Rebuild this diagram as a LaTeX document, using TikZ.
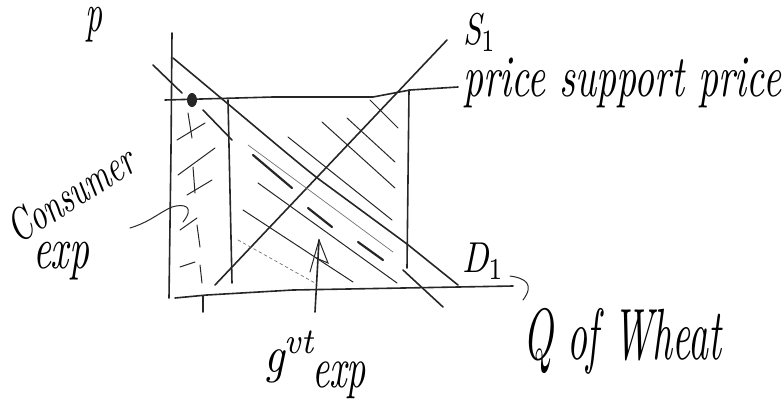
\documentclass[tikz,border=0pt]{standalone}
\usepackage{graphicx}
\newcommand{\hwtext}[3]{\resizebox*{#1pt}{#2pt}{\itshape #3}}
\begin{document}
\begin{tikzpicture}[x=1pt,y=-1pt,
  mainline/.style={line width=1.6pt, line cap=round, line join=round, draw=black!85},
  hatch/.style={line width=1.0pt, line cap=round, draw=black!85},
  faint/.style={line width=0.7pt, line cap=round, draw=black!55},
  thickdash/.style={line width=2.2pt, line cap=round, draw=black!85},
  lbl/.style={inner sep=0pt, outer sep=0pt, anchor=north west}]
\useasboundingbox (0,0) rectangle (784,402);

% key points
\coordinate (ytop) at (172,33);
\coordinate (ybot) at (169,298);
\coordinate (xl) at (175,298);
\coordinate (xr) at (513,286);
\coordinate (pl) at (165,100);
\coordinate (pr) at (458,87);
\coordinate (dtop) at (173,58);
\coordinate (dbot) at (458,285);
\coordinate (sbot) at (215,285);
\coordinate (stop) at (447,40);

% axes
\draw[mainline] (ytop) -- (171,150) -- (ybot);
\draw[mainline] (xl) -- (207,295) -- (293,290) -- (xr);
\draw[mainline] (203,296) -- (203,312);

% price support line and dot
\draw[mainline] (pl) -- (273,97) -- (373,97) -- (410,90) -- (pr);
\fill[black!85] (192,100) ellipse (5pt and 7pt);

% demand D
\draw[mainline] (dtop) .. controls (250,122) and (300,165) .. (320,180) -- (407,244) -- (dbot);
% dashed D1
\draw[mainline] (153,65) -- (182,93);
\draw[mainline] (203,110) -- (232,140);
\draw[thickdash] (253,155) -- (292,188);
\draw[thickdash] (308,208) -- (332,227);
\draw[thickdash] (358,242) -- (383,260);
\draw[mainline] (403,270) -- (443,307);

% supply S1
\draw[mainline] (sbot) -- (stop);

% verticals
\draw[mainline] (228,100) -- (232,283);
\draw[mainline] (409,90) -- (407,268);

% hatching (govt exp)
\draw[hatch] (370,100) -- (398,128);
\draw[hatch] (347,118) -- (395,162);
\draw[hatch] (322,122) -- (395,188);
\draw[hatch] (288,137) -- (392,220);
\draw[faint] (248,145) -- (393,252);
\draw[hatch] (258,183) -- (397,283);
\draw[hatch] (243,210) -- (353,282);
\draw[faint, dashed] (238,240) -- (315,283);

% consumer exp marks
\draw[hatch] (188,113) -- (192,138);
\draw[hatch] (177,140) -- (205,123);
\draw[hatch] (178,175) -- (215,148);
\draw[hatch] (193,167) -- (195,193);
\draw[hatch] (187,195) -- (212,180);
\draw[hatch] (180,230) -- (197,218);
\draw[hatch] (197,225) -- (200,247);
\draw[hatch] (180,267) -- (195,262);
\draw[hatch] (200,265) -- (202,283);

% consumer exp pointer
\draw[hatch] (130,228) .. controls (150,222) and (160,212) .. (172,207)
  .. controls (185,203) and (195,207) .. (183,222);

% govt exp arrow
\draw[mainline] (315,312) -- (319,240);
\draw[hatch] (310,272) -- (319,240) -- (328,263) -- (316,258);

% D1 hook
\draw[hatch] (510,276) .. controls (525,278) and (535,284) .. (523,300);

% labels
\node[lbl] (lp) at (85,7) {\hwtext{17}{35}{p}};
\node[lbl] (ls) at (463,13) {\hwtext{33}{38}{S$_1$}};
\node[lbl] (lpsp) at (463,58) {\hwtext{318}{50}{price support price}};
\node[lbl] (ld) at (462,243) {\hwtext{42}{36}{D$_1$}};
\node[lbl] (lq) at (523,308) {\hwtext{198}{66}{Q of Wheat}};
\node[inner sep=0pt, anchor=base west, rotate=32] (lcons) at (18,245) {\hwtext{142}{33}{Consumer}};
\node[lbl] (lcexp) at (33,242) {\hwtext{56}{38}{exp}};
\node[lbl] (lgvt) at (264,331) {\hwtext{52}{52}{g\textsuperscript{vt}}};
\node[lbl] (lgexp) at (312,362) {\hwtext{54}{37}{exp}};
\end{tikzpicture}
\end{document}
